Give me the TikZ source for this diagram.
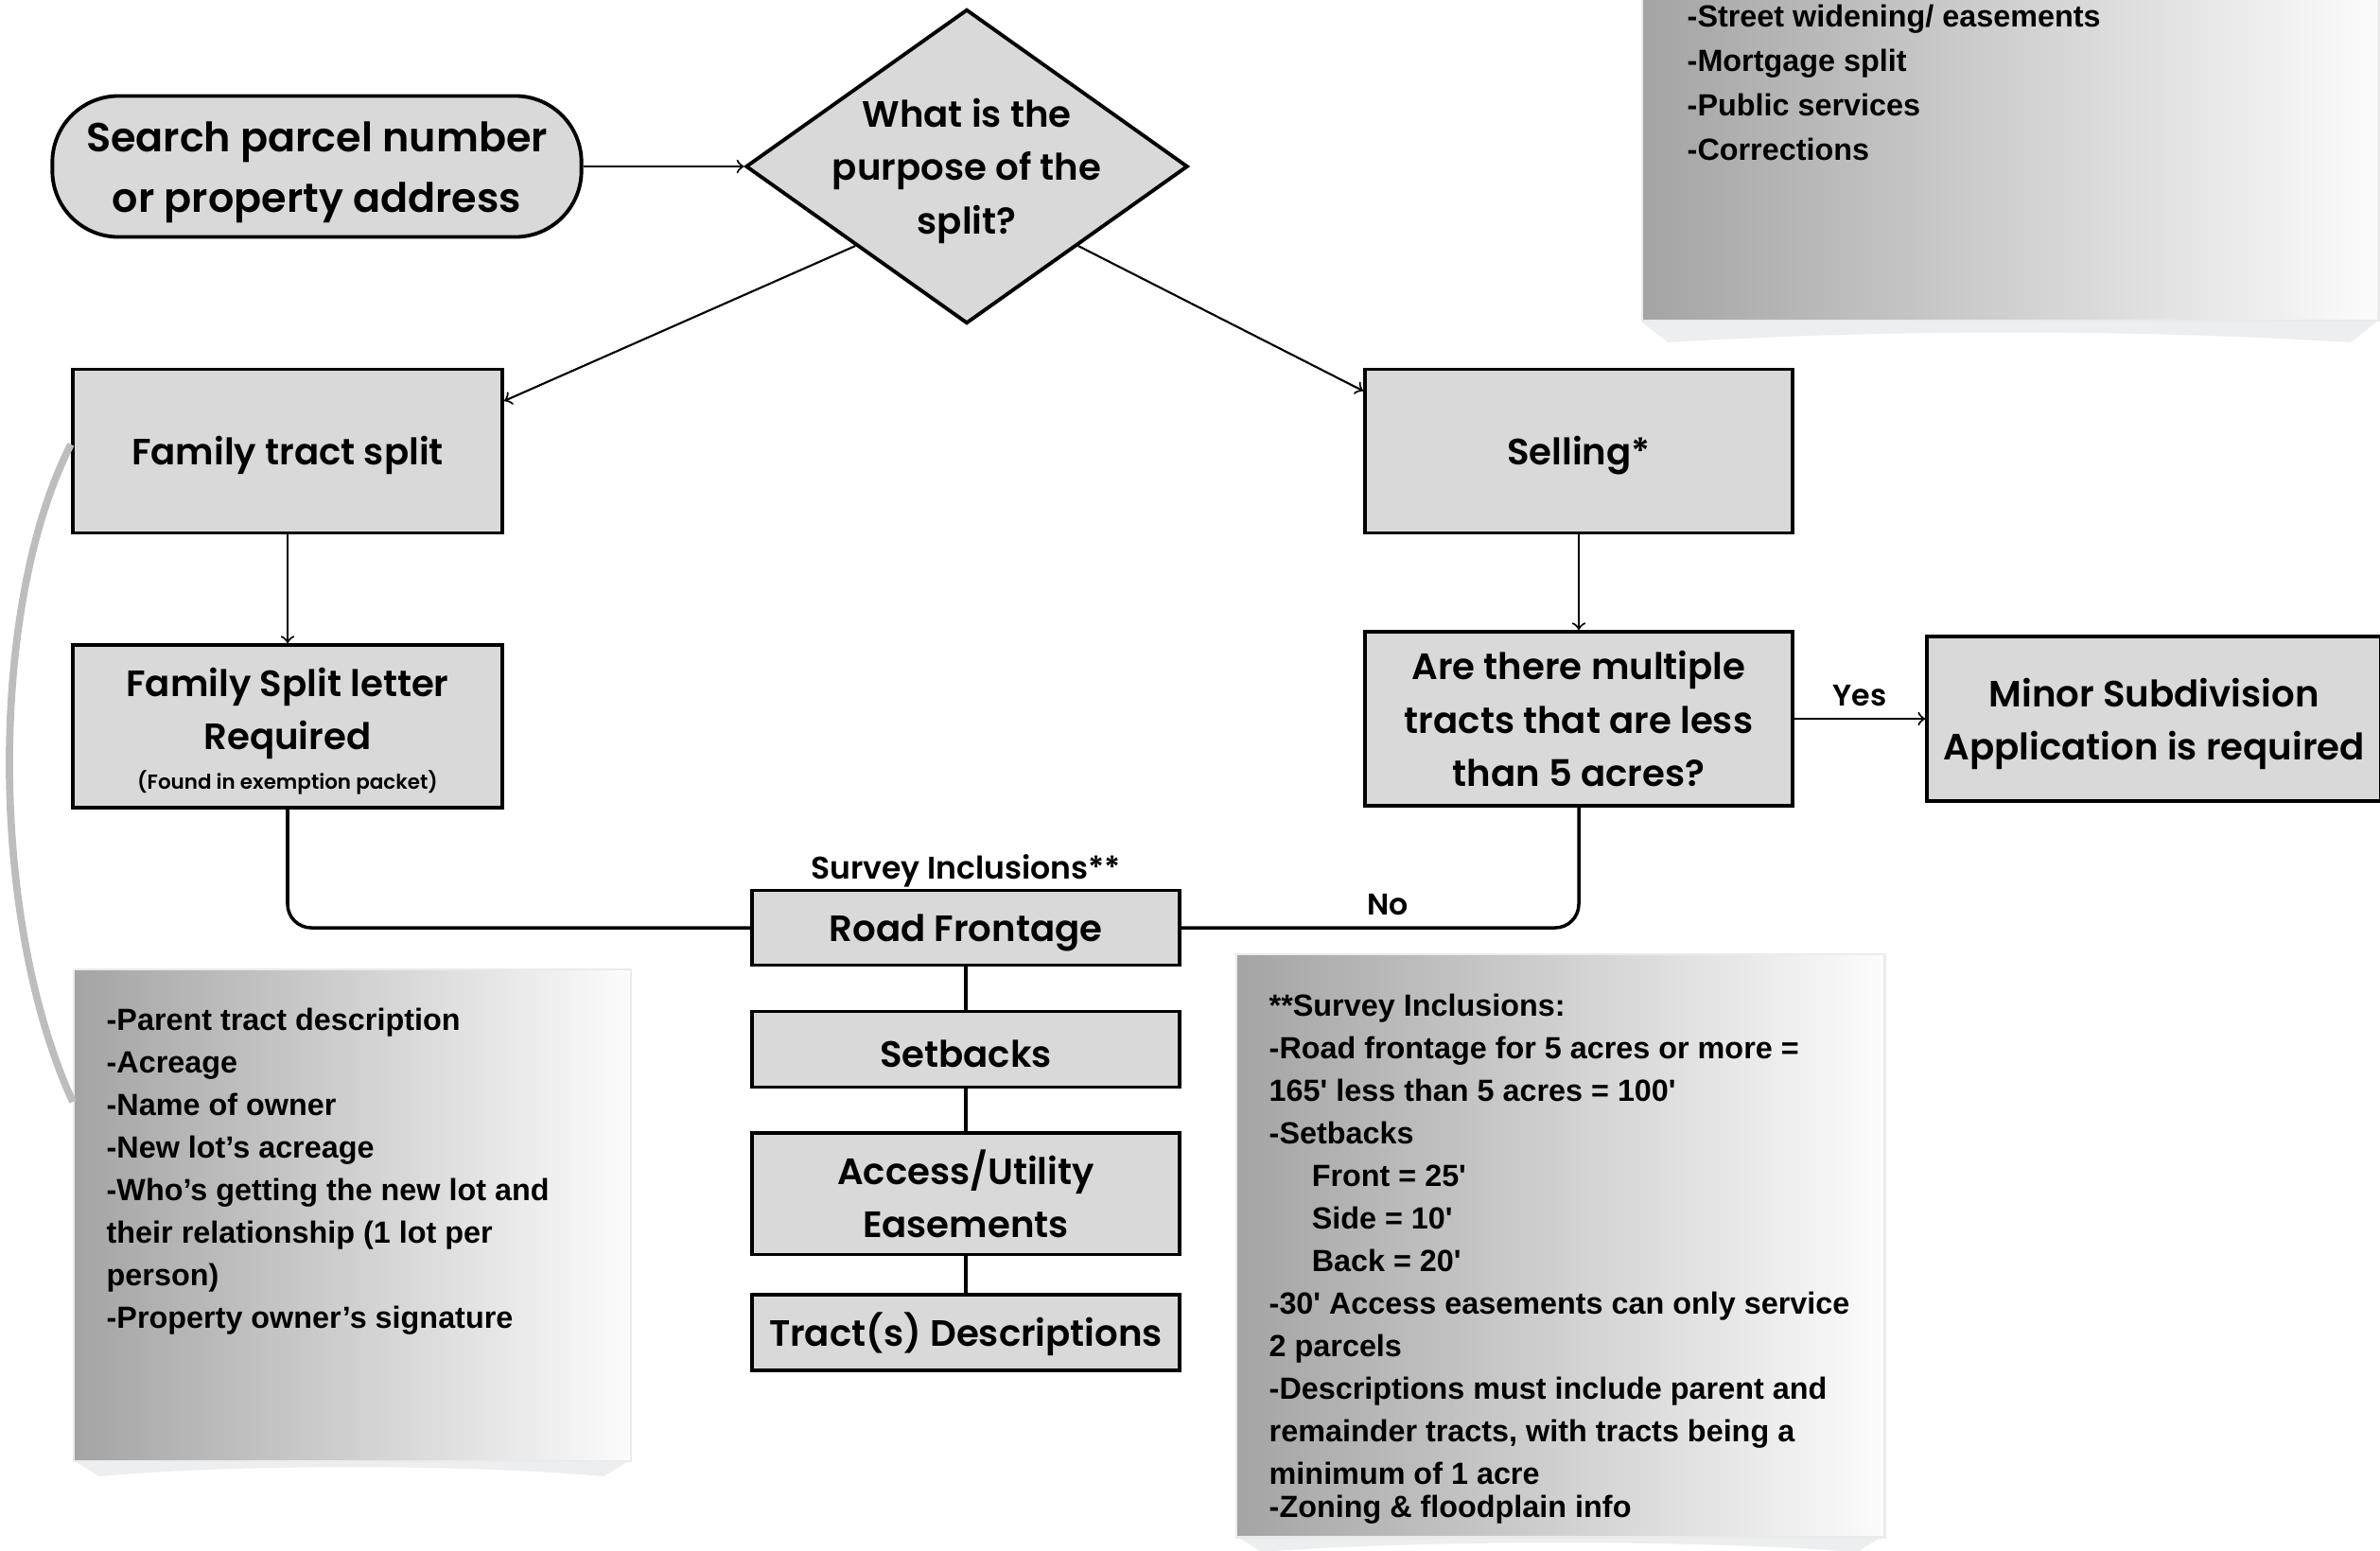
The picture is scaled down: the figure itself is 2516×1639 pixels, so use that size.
\documentclass[tikz,border=0pt]{standalone}
\usepackage{fontspec}
\setmainfont{Poppins}[UprightFont=* SemiBold]
\newfontfamily\notefont{Liberation Sans}[UprightFont=* Bold]
\usetikzlibrary{shapes.geometric, calc, positioning}
\definecolor{boxgray}{HTML}{D9D9D9}
\definecolor{notedark}{HTML}{A4A4A4}
\definecolor{notelight}{HTML}{FCFCFC}
\definecolor{curvegray}{HTML}{BDBDBD}
\definecolor{curlgray}{HTML}{ECEEF0}
\newcommand{\topstrut}{\rule{0pt}{1.05em}}

\begin{document}
\begin{tikzpicture}[x=0.01cm, y=-0.01cm]
        \tikzstyle{box}=[rectangle, draw, line width=1.1pt, fill=boxgray, align=center, inner sep=0pt,
            font=\fontsize{11}{16}\selectfont, execute at begin node={\rule{0pt}{1.0em}}]
        \tikzstyle{note}=[rectangle, inner sep=0pt, draw=black!8, line width=0.6pt, left color=notedark, right color=notelight]
        \tikzstyle{notetext}=[anchor=north west, align=left, inner sep=0pt,
            font=\notefont\fontsize{9.2}{12.8}\selectfont]
        \tikzstyle{flow}=[->, line width=0.6pt]
        \tikzstyle{link}=[line width=1pt, rounded corners=0.25cm]
        \tikzstyle{small}=[font=\fontsize{9}{11}\selectfont]
        \useasboundingbox (0,0) rectangle (2516,1639);
        % start and the question
        \node[box, rounded corners=0.7cm, minimum width=5.59cm, minimum height=1.49cm,
            font=\fontsize{12.2}{18.2}\selectfont] (search) at (335,176) {\topstrut Search parcel number\\or property address};
        \node[diamond, draw, line width=1.1pt, fill=boxgray, inner sep=0pt, minimum width=4.67cm, minimum height=3.32cm,
            label={[align=center, yshift=-1.4pt, font=\fontsize{11}{16}\selectfont]center:What is the\\purpose of the\\split?}] (purpose) at (1022,176) {};
        % the two branches
        \node[box, minimum width=4.54cm, minimum height=1.73cm] (famsplit) at (304,477) {Family tract split};
        \node[box, minimum width=4.52cm, minimum height=1.73cm] (selling) at (1669,477) {Selling*};
        \node[box, minimum width=4.54cm, minimum height=1.72cm] (famletter) at (304,768)
            {\topstrut Family Split letter\\Required\\[-4pt]{\fontsize{6.1}{8}\selectfont (Found in exemption packet)}};
        \node[box, minimum width=4.52cm, minimum height=1.84cm, execute at begin node={}] (multi) at (1669,760)
            {Are there multiple\\tracts that are less\\than 5 acres?};
        \node[box, minimum width=4.80cm, minimum height=1.74cm, right=1.38cm of multi] (minor) {\topstrut Minor Subdivision\\Application is required};
        % survey stack
        \node[box, minimum width=4.51cm, minimum height=0.79cm] (road) at (1021,981) {Road Frontage};
        \node[box, minimum width=4.51cm, minimum height=0.80cm, below=0.45cm of road] (setbacks) {Setbacks};
        \node[box, minimum width=4.51cm, minimum height=1.28cm, below=0.45cm of setbacks] (access) {Access/Utility\\Easements};
        \node[box, minimum width=4.51cm, minimum height=0.80cm, below=0.39cm of access] (tracts) {Tract(s) Descriptions};
        \node[small, font=\fontsize{9.4}{11}\selectfont, inner sep=0pt, above=0.01cm of road] (survey) {Survey Inclusions**};
        % connectors
        \draw[flow] (search) -- (purpose);
        \draw[flow] (purpose.south west) -- ($(famsplit.north east)!0.2!(famsplit.south east)$);
        \draw[flow] (purpose.south east) -- ($(selling.north west)!0.14!(selling.south west)$);
        \draw[flow] (famsplit) -- (famletter);
        \draw[flow] (selling) -- (multi);
        \draw[flow] (multi) -- node[small, above] (yes) {Yes} (minor);
        \draw[link] (famletter.south) |- (road.west);
        \draw[link] (multi.south) |- node[small, above, pos=0.74] (no) {No} (road.east);
        \draw[line width=1pt] (road) -- (setbacks) (setbacks) -- (access) (access) -- (tracts);
        % notes with paper curl
        \fill[curlgray] (77,1544) -- (105,1561) .. controls (250,1548) and (490,1548) .. (638,1561) -- (666,1544) -- cycle;
        \fill[curlgray] (1306,1624) -- (1334,1641) .. controls (1500,1628) and (1800,1628) .. (1963,1641) -- (1991,1624) -- cycle;
        \fill[curlgray] (1735,340) -- (1763,362) .. controls (2000,348) and (2250,348) .. (2485,362) -- (2513,340) -- cycle;
        \node[note, minimum width=5.89cm, minimum height=5.20cm, anchor=north west] (famnote) at (77,1024) {};
        \node[note, minimum width=6.85cm, minimum height=6.16cm, anchor=north west] (surveynote) at (1306,1008) {};
        \node[note, minimum width=7.78cm, minimum height=3.60cm, anchor=south west] (othernote) at (1735,340) {};
        \node[notetext] (famlist) at ($(famnote.north west)+(35,41)$)
            {-Parent tract description\\-Acreage\\-Name of owner\\-New lot’s acreage\\-Who’s getting the new lot and\\their relationship (1 lot per\\person)\\-Property owner’s signature};
        \node[notetext] (surveylist) at ($(surveynote.north west)+(35,42)$)
            {**Survey Inclusions:\\-Road frontage for 5 acres or more =\\165\textquotesingle{} less than 5 acres = 100\textquotesingle\\-Setbacks\\
            \hspace*{0.45cm}Front = 25\textquotesingle\\\hspace*{0.45cm}Side = 10\textquotesingle\\\hspace*{0.45cm}Back = 20\textquotesingle\\
            -30\textquotesingle{} Access easements can only service\\2 parcels\\-Descriptions must include parent and\\remainder tracts, with tracts being a\\minimum of 1 acre\\[-2.8pt]-Zoning \& floodplain info};
        \node[notetext, font=\notefont\fontsize{9.2}{13.4}\selectfont] (otherlist) at (1783,4)
            {-Street widening/ easements\\-Mortgage split\\-Public services\\-Corrections};
        % link from family split to its note
        \draw[curvegray, line width=2.2pt] ($(famsplit.north west)!0.46!(famsplit.south west)$)
            .. controls (-12,640) and (-12,972) .. ($(famnote.north west)!0.27!(famnote.south west)$);
\end{tikzpicture}
\end{document}
